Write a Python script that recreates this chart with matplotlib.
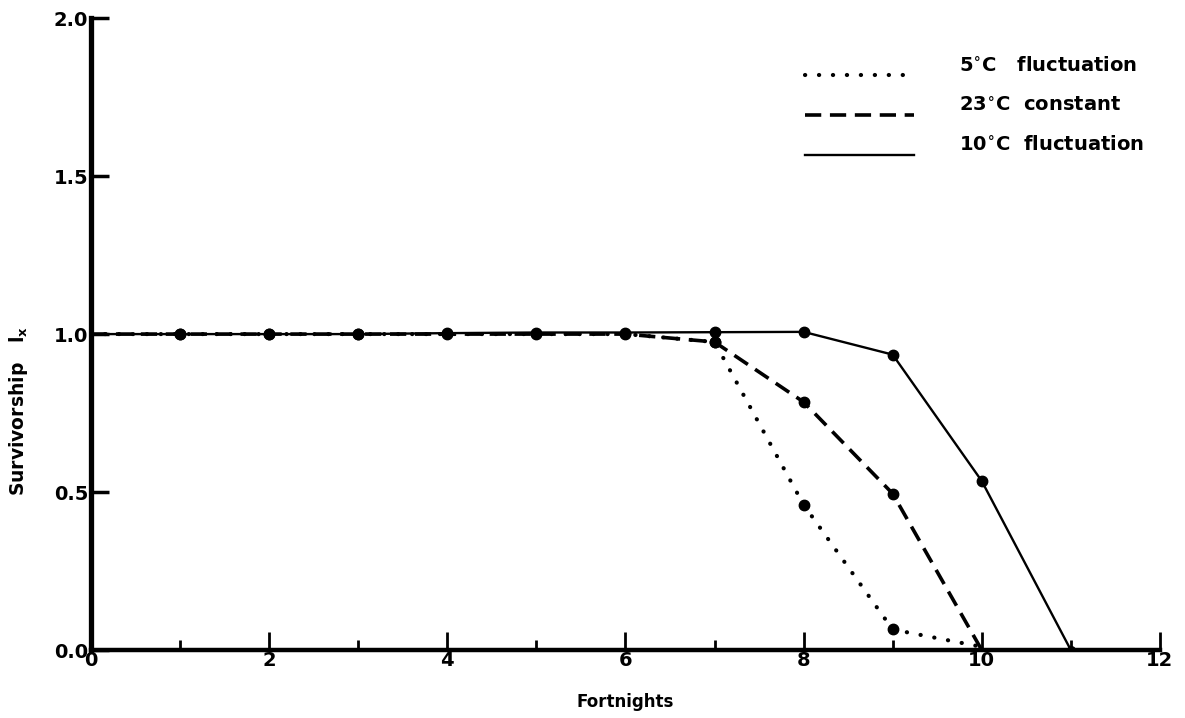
import matplotlib
matplotlib.use("Agg")
import matplotlib.pyplot as plt
from matplotlib.ticker import MultipleLocator, FixedLocator

plt.rcParams['font.family'] = ['DejaVu Sans']
plt.rcParams['font.weight'] = 'bold'
plt.rcParams['mathtext.default'] = 'bf'

fortnights_5 = [0, 1, 2, 3, 4, 5, 6, 7, 8, 9, 10]
surv_5 = [1.0, 1.0, 1.0, 1.0, 1.0, 1.0, 1.0, 0.975, 0.46, 0.065, 0.01]

fortnights_23 = [0, 1, 2, 3, 4, 5, 6, 7, 8, 9, 10]
surv_23 = [1.0, 1.0, 1.0, 1.0, 1.0, 1.0, 1.0, 0.975, 0.785, 0.495, 0.0]

fortnights_10 = [0, 1, 2, 3, 4, 5, 6, 7, 8, 9, 10, 11]
surv_10 = [1.0, 1.0, 1.0, 1.0, 1.003, 1.005, 1.005, 1.006, 1.007, 0.935, 0.535, 0.0]

labels = ["5$^{\\circ}$C   fluctuation", "23$^{\\circ}$C  constant", "10$^{\\circ}$C  fluctuation"]
x_ticks_major = [0, 2, 4, 6, 8, 10, 12]
y_ticks = [0.0, 0.5, 1.0, 1.5, 2.0]

fig = plt.figure(figsize=(11.85, 7.18), dpi=100)
ax = fig.add_axes([0.0768, 0.0947, 0.902, 0.880])

l5, = ax.plot(fortnights_5, surv_5, color='black', lw=3.0, ls=(0, (0.05, 3.3)),
              dash_capstyle='round', label=labels[0])
l23, = ax.plot(fortnights_23, surv_23, color='black', lw=2.6, ls=(0, (4.5, 2.4)), label=labels[1])
l10, = ax.plot(fortnights_10, surv_10, color='black', lw=1.7, ls='-', label=labels[2])

# markers
ax.plot(fortnights_5[1:10], surv_5[1:10], 'o', color='black', ms=7.5)
ax.plot(fortnights_23[7:10], surv_23[7:10], 'o', color='black', ms=7.5)
ax.plot(fortnights_10[1:11], surv_10[1:11], 'o', color='black', ms=7.5)
ax.plot([fortnights_10[11]], [surv_10[11]], 'o', color='black', ms=5.5)

ax.set_xlim(0, 12)
ax.set_ylim(0, 2.0)
ax.xaxis.set_major_locator(FixedLocator(x_ticks_major))
ax.xaxis.set_minor_locator(MultipleLocator(1))
ax.yaxis.set_major_locator(FixedLocator(y_ticks))
ax.set_yticklabels([f"{v:.1f}" for v in y_ticks])

for s in ['top', 'right']:
    ax.spines[s].set_visible(False)
ax.spines['left'].set_linewidth(3.8)
ax.spines['bottom'].set_linewidth(3.2)

ax.tick_params(axis='x', which='major', direction='in', length=13, width=2, labelsize=14, pad=1)
ax.tick_params(axis='x', which='minor', direction='in', length=7, width=2)
ax.tick_params(axis='y', which='major', direction='in', length=13, width=2.5, labelsize=14, pad=2)
for t in ax.get_xticklabels() + ax.get_yticklabels():
    t.set_fontweight('bold')

ax.set_xlabel("Fortnights", fontsize=12, fontweight='bold')
ax.xaxis.set_label_coords(0.5, -0.068)
ax.set_ylabel("Survivorship   l$_\\mathbf{x}$", fontsize=13.5, fontweight='bold')
ax.yaxis.set_label_coords(-0.057, 0.378)

leg = ax.legend(handles=[l5, l23, l10], loc='upper right', bbox_to_anchor=(0.985, 0.94),
                frameon=False, handlelength=5.6, handletextpad=2.3,
                labelspacing=1.05, borderpad=0, borderaxespad=0,
                prop={'weight': 'bold', 'size': 14})
for ln in leg.get_lines():
    yd = ln.get_ydata()
    ln.set_ydata([v - 8 for v in yd])

fig.savefig("out.png", dpi=100)
